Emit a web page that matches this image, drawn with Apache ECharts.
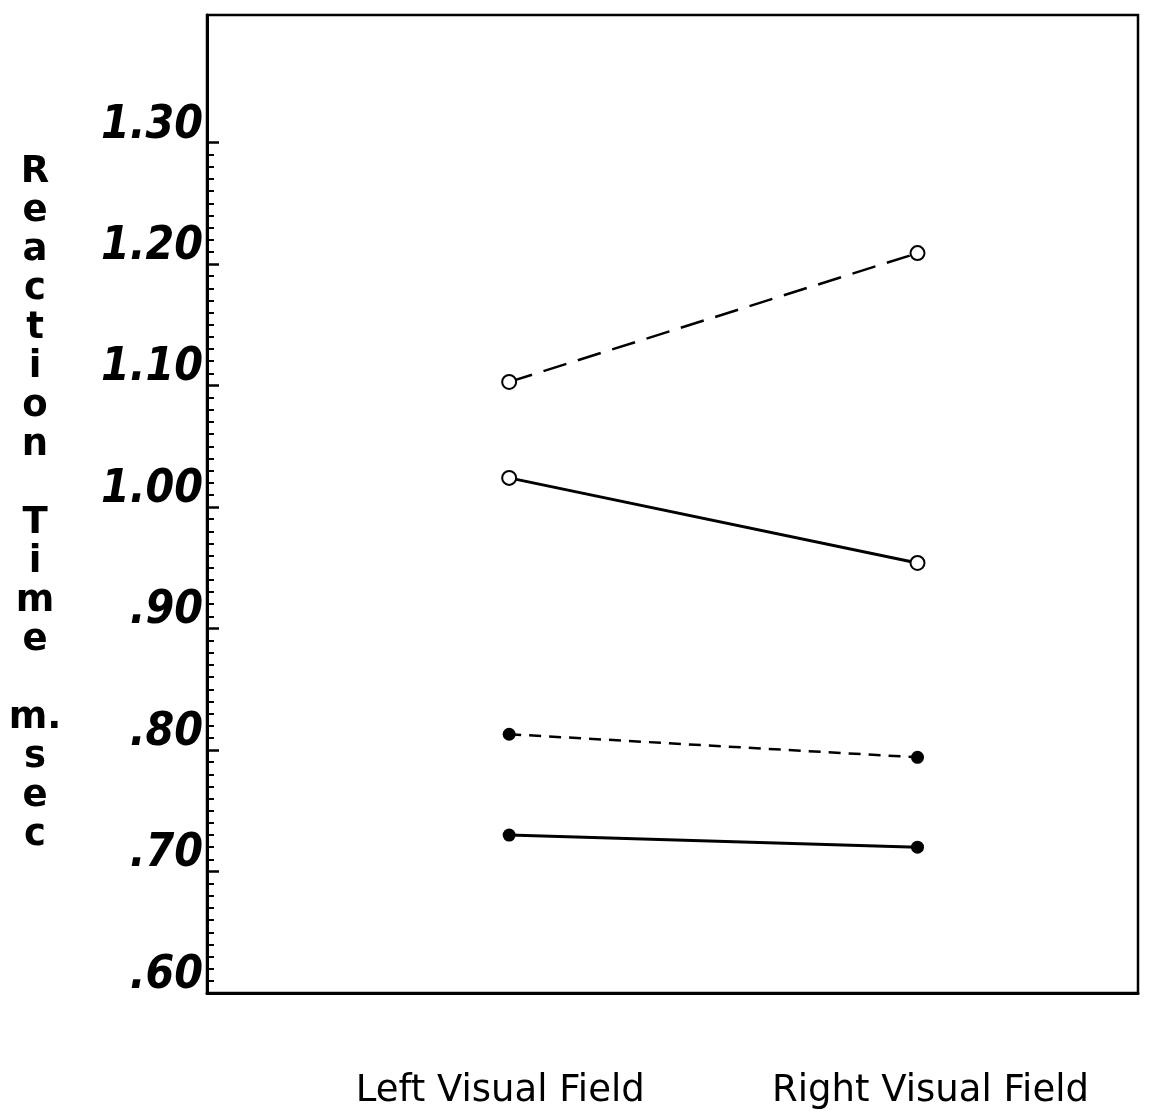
<!DOCTYPE html>
<html>
<head>
<meta charset="utf-8">
<script src="https://cdn.jsdelivr.net/npm/echarts@6/dist/echarts.min.js"></script>
<style>
  html, body { margin: 0; padding: 0; background: #fff; }
  #chart { width: 1151px; height: 1119px; }
</style>
</head>
<body>
<div id="chart"></div>
<script type="text/javascript">

// data
var fields = ['Left Visual Field', 'Right Visual Field'];
var fieldPos = [1, 2];
var dashedOpen = [1.103, 1.209];
var solidOpen = [1.024, 0.954];
var dashedFilled = [0.813, 0.794];
var solidFilled = [0.730, 0.720];
var yTicks = [0.6, 0.7, 0.8, 0.9, 1.0, 1.1, 1.2, 1.3];
var yTickLabels = ['.60', '.70', '.80', '.90', '1.00', '1.10', '1.20', '1.30'];
var yMinorTicks = [];
for (var i = 60; i <= 130; i++) {
    if (i % 10 != 0) yMinorTicks.push(i / 100);
}

function pairs(vals){
    var out = [];
    for (var k = 0; k < vals.length; k++) out.push([fieldPos[k], vals[k]]);
    return out;
}

var myChart = echarts.init(document.getElementById('chart'));

option = {
    backgroundColor: '#fff',
    animation: false,
    grid: {
        left: 207, right: 13, top: 15, bottom: 126,
        show: true,
        borderColor: '#000',
        borderWidth: 2.5
    },
    xAxis: {
        type: 'value',
        min: 0.26,
        max: 2.54,
        splitLine: { show: false },
        axisTick: { show: false },
        axisLine: { lineStyle: { color: '#000', width: 3 } },
        axisLabel: {
            customValues: fieldPos,
            margin: 80,
            color: '#000',
            fontSize: 37,
            fontFamily: "'DejaVu Sans', sans-serif",
            formatter: function(v){
                var idx = fieldPos.indexOf(v);
                if (idx == 0) return '{l|' + fields[0] + '}';
                if (idx == 1) return '{r|' + fields[1] + '}';
                return '';
            },
            rich: {
                l: { fontSize: 37, color: '#000', padding: [0, 18, 0, 0] },
                r: { fontSize: 37, color: '#000', padding: [0, 0, 0, 26] }
            }
        }
    },
    yAxis: [
        {
            type: 'value',
            min: 0.6,
            max: 1.405,
            splitLine: { show: false },
            axisLine: { show: true, lineStyle: { color: '#000', width: 3 } },
            axisTick: {
                show: true, inside: true, length: 12,
                customValues: yTicks,
                lineStyle: { color: '#000', width: 2.5 }
            },
            axisLabel: {
                customValues: yTicks,
                margin: 4,
                color: '#000',
                fontSize: 46,
                lineHeight: 34,
                fontStyle: 'italic',
                fontWeight: 'bold',
                fontFamily: "'DejaVu Sans Condensed', 'DejaVu Sans', sans-serif",
                verticalAlign: 'bottom',
                formatter: function(v){
                    var idx = yTicks.indexOf(Math.round(v * 100) / 100);
                    return idx >= 0 ? yTickLabels[idx] : '';
                }
            },
            name: 'R\ne\na\nc\nt\ni\no\nn\n\nT\ni\nm\ne\n\nm.\ns\ne\nc',
            nameLocation: 'middle',
            nameRotate: 0,
            nameGap: 172,
            nameTextStyle: {
                color: '#000',
                fontSize: 37,
                lineHeight: 39,
                align: 'center',
                fontWeight: 'bold',
                fontFamily: "'DejaVu Sans', sans-serif"
            }
        },
        {
            type: 'value',
            position: 'left',
            min: 0.6,
            max: 1.405,
            splitLine: { show: false },
            axisLine: { show: false },
            axisLabel: { show: false },
            axisTick: {
                show: true, inside: true, length: 7,
                customValues: yMinorTicks,
                lineStyle: { color: '#000', width: 2 }
            }
        }
    ],
    series: [
        {
            name: 'dashed open',
            type: 'line',
            data: pairs(dashedOpen),
            symbol: 'emptyCircle',
            symbolSize: 14,
            lineStyle: { color: '#000', width: 2.5, type: [24, 12] },
            itemStyle: { color: '#000', borderColor: '#000', borderWidth: 3 }
        },
        {
            name: 'solid open',
            type: 'line',
            data: pairs(solidOpen),
            symbol: 'emptyCircle',
            symbolSize: 14,
            lineStyle: { color: '#000', width: 3 },
            itemStyle: { color: '#000', borderColor: '#000', borderWidth: 3 }
        },
        {
            name: 'dashed filled',
            type: 'line',
            data: pairs(dashedFilled),
            symbol: 'circle',
            symbolSize: 13,
            lineStyle: { color: '#000', width: 2.5, type: [12, 8] },
            itemStyle: { color: '#000' }
        },
        {
            name: 'solid filled',
            type: 'line',
            data: pairs(solidFilled),
            symbol: 'circle',
            symbolSize: 13,
            lineStyle: { color: '#000', width: 3 },
            itemStyle: { color: '#000' }
        }
    ]
};
myChart.setOption(option);

</script>
</body>
</html>
